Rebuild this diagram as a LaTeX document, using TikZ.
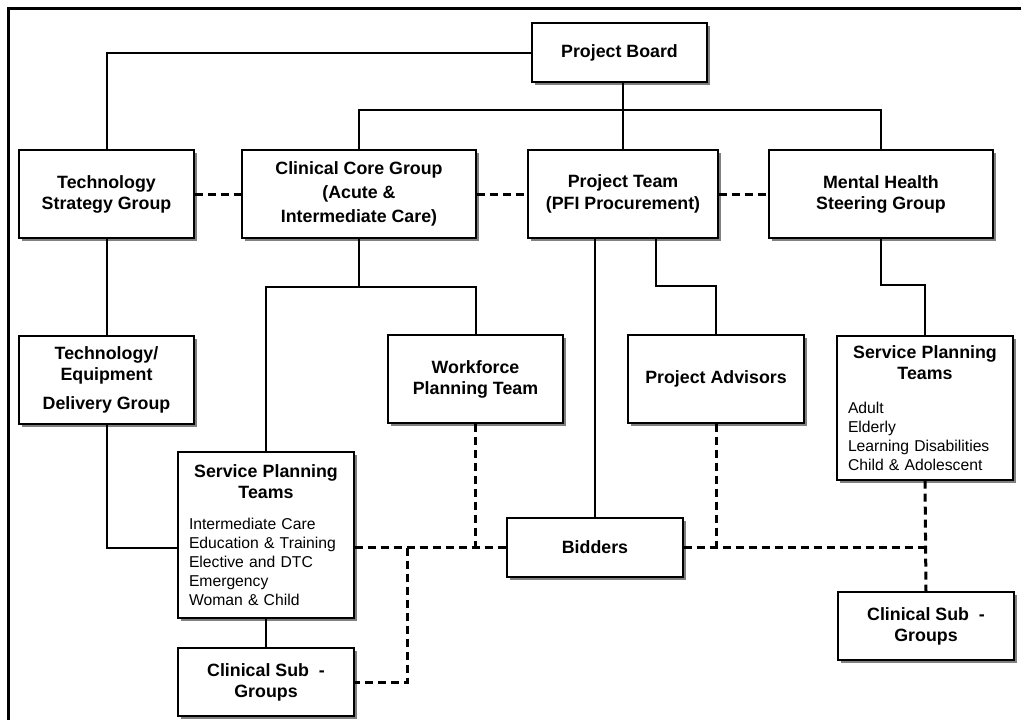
\documentclass[tikz,border=0pt]{standalone}
\usepackage{fontspec}
\setmainfont{Liberation Sans}
\usetikzlibrary{shadows,positioning}
\setlength{\parindent}{0pt}

\newcommand{\boldtxt}{\fontsize{17.8}{21}\selectfont\bfseries}
\newcommand{\listtxt}{\fontsize{15.7}{19}\selectfont\mdseries}

\tikzset{
  boxbase/.style={draw,line width=1.2pt,fill=white,inner sep=2pt,
    drop shadow={shadow xshift=3pt,shadow yshift=-3pt,fill=black!50,opacity=1}},
  box/.style={boxbase,align=center,font=\boldtxt},
  teams/.style={boxbase,text width=154pt,inner xsep=11pt,font=\listtxt},
  link/.style={line width=2pt},
  dlink/.style={line width=3pt,dash pattern=on 8pt off 5pt}
}

\begin{document}
\begin{tikzpicture}[x=1pt,y=-1pt]
\useasboundingbox (0,0) rectangle (1021,720);
% frame (cut at right and bottom)
\draw[line width=3pt] (8,720) -- (8,8) -- (1021,8);

% top row
\node[box,minimum width=175pt,minimum height=59pt] (pb) at (619.5,52.5) {Project Board};
\node[box,minimum width=175pt,minimum height=88pt] (tsg) at (106.5,194) {Technology\\Strategy Group};
\node[box,minimum width=234pt,minimum height=88pt] (ccg) at (359,194) {Clinical Core Group\\[3pt](Acute \&\\[3pt]Intermediate Care)};
\node[box,minimum width=190pt,minimum height=88pt] (pt) at (623,194) {Project Team\\[1pt](PFI Procurement)};
\node[box,minimum width=224pt,minimum height=88pt] (mh) at (881,194) {Mental Health\\Steering Group};

% second row
\node[box,minimum width=175pt,minimum height=88pt] (ted) at (106.5,380) {Technology/\\Equipment\hspace*{18pt}\\[8pt]Delivery Group};
\node[box,minimum width=175pt,minimum height=88pt] (wpt) at (475.5,379) {Workforce\\Planning Team};
\node[box,minimum width=176pt,minimum height=88pt] (pa) at (716,379) {Project Advisors};
\node[teams,minimum height=144pt] (sptr) at (925,408) {{\centering\boldtxt Service Planning\\Teams\par}\vspace{15pt}
  \raggedright Adult\\Elderly\\Learning Disabilities\\Child \& Adolescent\par};

% lower part
\node[teams,minimum height=166pt] (sptl) at (266,535) {{\centering\boldtxt Service Planning\\Teams\par}\vspace{12pt}
  \raggedright Intermediate Care\\Education \& Training\\Elective and DTC\\Emergency\\Woman \& Child\par};
\node[box,minimum width=176pt,minimum height=59pt] (bid) at (595,547.5) {Bidders};
\node[box,minimum width=176pt,minimum height=68pt] (csgl) at (266,682) {Clinical Sub\ \ -\\Groups};
\node[box,minimum width=176pt,minimum height=68pt] (csgr) at (926,626) {Clinical Sub\ \ -\\Groups};

% solid links
\coordinate (topbar) at (623,110);
\coordinate (ccgbar) at (359,287);
\coordinate (ptbar) at (656,286);
\coordinate (mhbar) at (881,285);
\draw[link] (pb.west) -| (tsg.north);
\draw[link] (pb.south -| pt.north) -- (pt.north);
\draw[link] (ccg.north) |- (topbar) -| (mh.north);
\draw[link] (tsg.south) -- (ted.north);
\draw[link] (ccg.south) -- (ccgbar);
\draw[link] (sptl.north) |- (ccgbar) -| (wpt.north);
\draw[link] (ted.south) |- (sptl.west |- bid.west);
\draw[link] (sptl.south) -- (csgl.north);
\draw[link] (bid.north |- pt.south) -- (bid.north);
\draw[link] (ptbar |- pt.south) -- (ptbar) -| (pa.north);
\draw[link] (mh.south) -- (mhbar) -| (sptr.north);

% dashed links
\coordinate (csgk) at (407,547.5);
\draw[dlink] (tsg.east) -- (ccg.west);
\draw[dlink] (ccg.east) -- (pt.west);
\draw[dlink] (pt.east) -- (mh.west);
\draw[dlink] (sptl.east |- bid.west) -- (bid.west);
\draw[dlink] (wpt.south) -- (wpt.south |- bid.west);
\draw[dlink] (csgk) |- (csgl.east);
\draw[dlink] (bid.east) -- (bid.east -| sptr.south);
\draw[dlink] (pa.south) -- (pa.south |- bid.east);
\draw[dlink] (sptr.south) -- (csgr.north);
\end{tikzpicture}
\end{document}
